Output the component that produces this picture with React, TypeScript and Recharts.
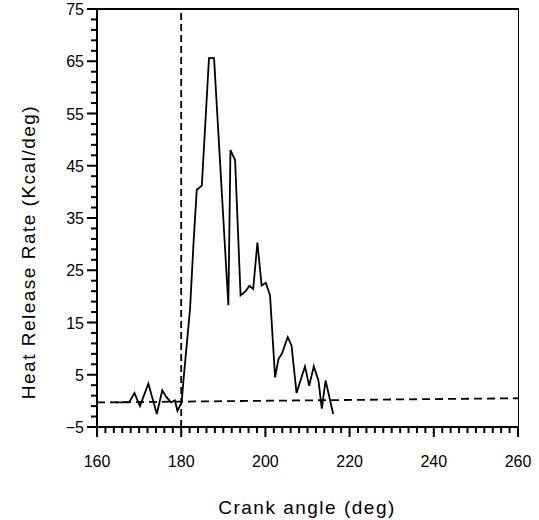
import React from 'react';
import { LineChart, Line, XAxis, YAxis, ReferenceLine } from 'recharts';

// Heat release rate vs crank angle (scanned figure)
const crankAngle = [
  164.4, 167.6, 168.9, 170.2, 172.2, 174.2, 175.5, 176.5, 177.6, 178.5, 179.1, 180.1,
  180.6, 182.1, 182.9, 183.7, 184.9, 186.6, 187.8, 191.2, 191.7, 192.8, 194.1, 195.2,
  196.2, 197.1, 198.1, 199.1, 200.1, 201.1, 202.3, 203.1, 203.9, 205.3, 206.2, 207.4,
  209.4, 210.4, 211.5, 212.6, 213.4, 214.3, 216.1,
];
const heatRelease = [
  -0.3, -0.3, 1.5, -1.0, 3.3, -2.5, 2.0, 0.7, -0.3, 0.1, -1.9, -0.3,
  4.5, 17.6, 29.8, 40.4, 41.2, 65.6, 65.6, 18.3, 48.0, 46.1, 20.2, 20.9,
  22.0, 21.4, 30.3, 22.1, 22.6, 20.2, 4.5, 8.0, 9.0, 12.2, 10.6, 1.5,
  6.6, 2.9, 6.6, 3.9, -1.5, 3.9, -2.5,
];

// dashed zero line (slightly tilted in the scan)
const baselineAngle = [160, 260];
const baselineValue = [-0.3, 0.5];

const xLabels = [160, 180, 200, 220, 240, 260];
const yLabels = [-5, 5, 15, 25, 35, 45, 55, 65, 75];
const xTicks = Array.from({ length: 51 }, (_, i) => 160 + i * 2);
const yTicks = Array.from({ length: 41 }, (_, i) => -5 + i * 2);

// one table for both series, baseline only at its two end points
const data = [
  { angle: baselineAngle[0], base: baselineValue[0] },
  ...crankAngle.map((a, i) => ({ angle: a, rate: heatRelease[i] })),
  { angle: baselineAngle[1], base: baselineValue[1] },
];

const FONT = '"Liberation Sans", Arial, sans-serif';

function XTick(props: any) {
  const x = Number(props.x);
  const y = Number(props.y);
  const v = props.payload.value;
  const major = xLabels.includes(v);
  return (
    <g>
      {major && <rect x={x - 1} y={y - 3} width={2} height={5} fill="#000" />}
      {major && (
        <text x={x} y={y + 32} textAnchor="middle" fontFamily={FONT} fontSize={16} fill="#000">
          {v}
        </text>
      )}
    </g>
  );
}

function YTick(props: any) {
  const x = Number(props.x);
  const y = Number(props.y);
  const v = props.payload.value;
  const major = yLabels.includes(v);
  return (
    <g>
      {major && <rect x={x - 2} y={y - 1} width={5} height={2} fill="#000" />}
      {major && (
        <text x={x - 5} y={y + 6} textAnchor="end" fontFamily={FONT} fontSize={16} fill="#000">
          {v === -5 ? '\u22125' : v}
        </text>
      )}
    </g>
  );
}

const titleStyle: React.CSSProperties = {
  position: 'absolute',
  fontFamily: FONT,
  fontSize: 19,
  letterSpacing: 1.5,
  lineHeight: 1,
  whiteSpace: 'nowrap',
  color: '#000',
};

export default function App() {
  return (
    <div style={{ position: 'absolute', left: 0, top: 0, width: 539, height: 520 }}>
      <LineChart data={data} width={539} height={520} margin={{ top: 9, right: 21, bottom: 0, left: 37 }}>
        <XAxis
          dataKey="angle"
          type="number"
          domain={[160, 260]}
          ticks={xTicks}
          interval={0}
          tickSize={6}
          tickLine={{ stroke: '#000', strokeWidth: 2 }}
          tick={<XTick />}
          height={93}
          axisLine={{ stroke: '#000', strokeWidth: 2 }}
        />
        <YAxis
          type="number"
          domain={[-5, 75]}
          ticks={yTicks}
          interval={0}
          tickSize={6}
          tickLine={{ stroke: '#000', strokeWidth: 2 }}
          tick={<YTick />}
          width={60}
          axisLine={{ stroke: '#000', strokeWidth: 2 }}
        />
        <ReferenceLine x={180} stroke="#000" strokeWidth={1.8} strokeDasharray="7 4" />
        <Line
          dataKey="base"
          stroke="#000"
          strokeWidth={1.8}
          strokeDasharray="8 5"
          dot={false}
          connectNulls
          isAnimationActive={false}
        />
        <Line
          dataKey="rate"
          type="linear"
          stroke="#000"
          strokeWidth={1.8}
          dot={false}
          isAnimationActive={false}
        />
      </LineChart>
      {/* top and right frame of the plot box */}
      <div
        style={{
          position: 'absolute',
          left: 97,
          top: 8,
          width: 422,
          height: 419,
          boxSizing: 'border-box',
          borderTop: '2px solid #000',
          borderRight: '1.5px solid #000',
          pointerEvents: 'none',
        }}
      />
      <div style={{ ...titleStyle, left: 307, top: 507, transform: 'translate(-50%, -50%)' }}>
        Crank angle (deg)
      </div>
      <div style={{ ...titleStyle, left: 28, top: 252, transform: 'translate(-50%, -50%) rotate(-90deg)' }}>
        Heat Release Rate (Kcal/deg)
      </div>
    </div>
  );
}
